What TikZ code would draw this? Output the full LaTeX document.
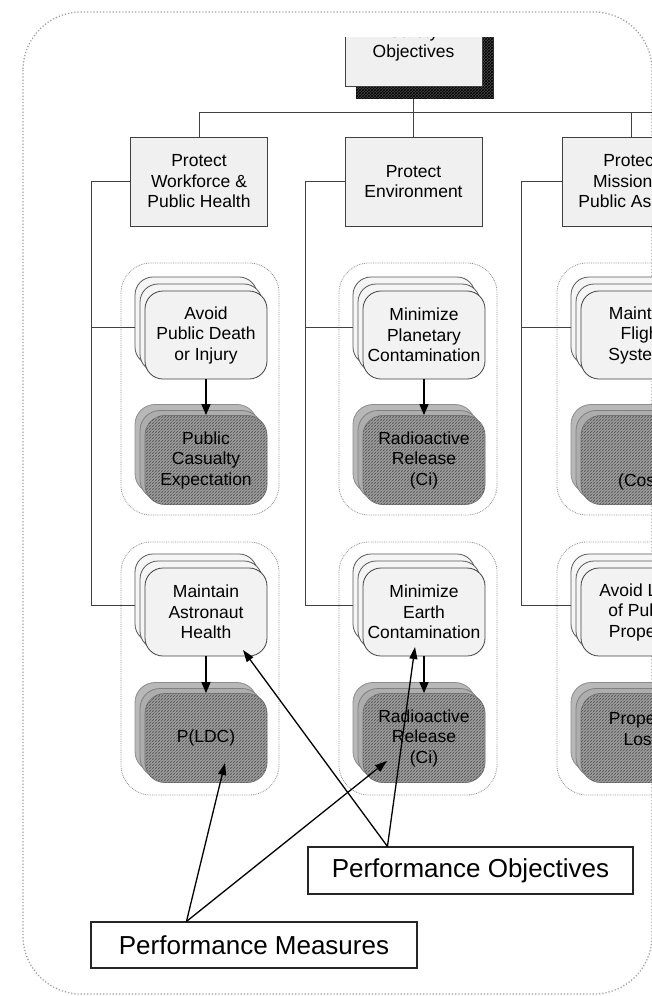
\documentclass[tikz,border=0pt]{standalone}
\usepackage{fontspec}
\setmainfont{Liberation Sans}
\usetikzlibrary{arrows.meta,shadows,patterns,backgrounds,calc}
\begin{document}
\begin{tikzpicture}[x=1pt,y=-1pt,
  txt/.style={font=\fontsize{17.5}{20.5}\selectfont, align=center, inner sep=0pt},
  conn/.style={draw=black!75, line width=0.8pt},
  grp/.style={draw=black!45, densely dotted, line width=0.8pt, rounded corners=30pt},
  outline/.style={draw=black!40, dotted, line width=1.2pt, rounded corners=58pt},
  goalbox/.style={txt, rectangle, draw=black!75, line width=0.9pt, fill=black!6,
    minimum width=137pt, minimum height=89pt},
  rootbox/.style={goalbox, minimum height=86pt,
    copy shadow={shadow xshift=11pt, shadow yshift=-12pt, fill=black!72, draw=black!80,
      postaction={pattern=crosshatch, pattern color=black}}},
  objnode/.style={txt, rectangle, rounded corners=18pt, draw=black!75, line width=0.8pt,
    fill=black!5, minimum width=122pt, minimum height=88pt,
    copy shadow={shadow xshift=-10pt, shadow yshift=14pt, fill=black!4, draw=black!65},
    copy shadow={shadow xshift=-5pt, shadow yshift=7pt, fill=black!4, draw=black!65}},
  measnode/.style={txt, rectangle, rounded corners=20pt, draw=black!55, line width=0.8pt,
    fill=black!36, minimum width=122pt, minimum height=89pt,
    copy shadow={shadow xshift=-10pt, shadow yshift=11pt, fill=black!28, draw=black!45},
    copy shadow={shadow xshift=-5pt, shadow yshift=5pt, fill=black!32, draw=black!50},
    postaction={pattern=north east lines, pattern color=black!70},
    postaction={pattern=north west lines, pattern color=black!45}},
  flow/.style={-{Triangle[length=11pt,width=9pt]}, line width=1.4pt, black},
  pointer/.style={-{Triangle[length=12pt,width=8pt]}, line width=1.3pt, black},
  labelbox/.style={rectangle, draw=black!85, line width=1.1pt, fill=white, inner sep=0pt,
    font=\fontsize{26}{30}\selectfont}
]
\useasboundingbox (0,0) rectangle (651,996);

% root of the hierarchy, cut off at the top
\begin{scope}
  \clip (0,37) rectangle (651,996);
  \node[rootbox] (tb) at (413.5,43) {Safety\\Objectives};
\end{scope}

% first-level goals
\node[goalbox] (pw) at (199,181.5) {Protect\\Workforce \&\\Public Health};
\node[goalbox] (pe) at (413.5,181.5) {Protect\\Environment};
\node[goalbox] (pm) at (631,181.5) {Protect\\Mission \&\\Public Assets};

% performance objectives (stacked)
\node[objnode] (o11) at (206,335) {Avoid\\Public Death\\or Injury};
\node[objnode] (o12) at (206,612) {Maintain\\Astronaut\\Health};
\node[objnode] (o21) at (424,335) {Minimize\\Planetary\\Contamination};
\node[objnode] (o22) at (424,612) {Minimize\\Earth\\Contamination};
\node[objnode] (o31) at (642,335) {Maintain\\Flight\\Systems};
\node[objnode] (o32) at (642,612) {Avoid Loss\\of Public\\Property};

% performance measures (stacked, hatched)
\node[measnode] (m11) at (206,460) {Public\\Casualty\\Expectation};
\node[measnode] (m12) at (206,738) {P(LDC)};
\node[measnode] (m21) at (424,460) {Radioactive\\Release\\(Ci)};
\node[measnode] (m22) at (424,738) {Radioactive\\Release\\(Ci)};
\node[measnode] (m31) at (642,460) {};
\node[txt] (m31t) at (642,482) {(Cost)};
\node[measnode] (m32) at (642,738) {};
\node[txt] (m32t) at (642,729) {Property\\Loss};

% objective -> measure
\foreach \o/\m in {o11/m11,o12/m12,o21/m21,o22/m22}
  \draw[flow] (\o.south) -- (\m.north);

\begin{pgfonlayer}{background}
  \draw[outline] (23,12) rectangle (652,994);
  % containers around each objective/measure pair
  \foreach \cx in {206,424,642} {
    \draw[grp] (\cx-85,263) rectangle (\cx+73,515);
    \draw[grp] (\cx-85,542) rectangle (\cx+73,795);
  }
  % tree connectors
  \coordinate (busR) at (660,112);
  \draw[conn] (pw.north) |- (busR);
  \draw[conn] (tb.south) -- (pe.north);
  \draw[conn] (pm.north) -- (pm.north |- busR);

  \coordinate (bL1) at ($(o11.west)+(-10,-8)$);
  \coordinate (bL2) at ($(o12.west)+(-10,-7)$);
  \coordinate (bM1) at ($(o21.west)+(-10,-8)$);
  \coordinate (bM2) at ($(o22.west)+(-10,-7)$);
  \coordinate (bR1) at ($(o31.west)+(-10,-8)$);
  \coordinate (bR2) at ($(o32.west)+(-10,-7)$);
  \coordinate (tL) at (91,0);
  \coordinate (tM) at (305,0);
  \coordinate (tR) at (521,0);
  \draw[conn] (pw.west) -| (tL |- bL2) -- (bL2);
  \draw[conn] (tL |- bL1) -- (bL1);
  \draw[conn] (pe.west) -| (tM |- bM2) -- (bM2);
  \draw[conn] (tM |- bM1) -- (bM1);
  \draw[conn] (pm.west) -| (tR |- bR2) -- (bR2);
  \draw[conn] (tR |- bR1) -- (bR1);
\end{pgfonlayer}

% call-out labels
\node[labelbox, minimum width=326pt, minimum height=46pt] (pmeas) at (254,945) {Performance Measures};
\node[labelbox, minimum width=325pt, minimum height=47pt] (pobj) at (470.5,870.5) {Performance Objectives};
\coordinate (pmeasT) at ($(pmeas.north west)+(96,0)$);
\coordinate (pobjT) at ($(pobj.north west)+(80,0)$);
\coordinate (hitM12) at ($(m12.center)+(19,25)$);
\coordinate (hitM22) at ($(m22.center)+(-37,23)$);
\coordinate (hitO12) at ($(o12.center)+(37,38)$);
\coordinate (hitO22) at ($(o22.center)+(-9,35)$);
\draw[pointer] (pmeasT) -- (hitM12);
\draw[pointer] (pmeasT) -- (hitM22);
\draw[pointer] (pobjT) -- (hitO12);
\draw[pointer] (pobjT) -- (hitO22);
\end{tikzpicture}
\end{document}
